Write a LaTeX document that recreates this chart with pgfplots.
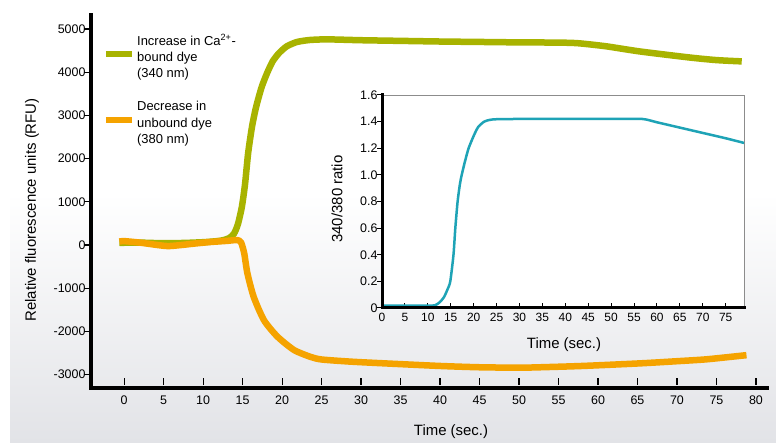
\documentclass[border=0pt]{standalone}
\usepackage{pgfplots}
\pgfplotsset{compat=1.18}
\usepackage{fontspec}
\setmainfont{Liberation Sans}
\definecolor{cgreen}{RGB}{168,179,0}
\definecolor{corange}{RGB}{245,163,0}
\definecolor{cteal}{RGB}{30,163,182}
\definecolor{bggrey}{RGB}{226,227,231}
\begin{document}
\begin{tikzpicture}
\fill[white] (0bp,0bp) rectangle (776bp,443bp);
\shade[top color=white, bottom color=bggrey] (10bp,0bp) rectangle (776bp,250bp);
\begin{axis}[
  at={(91bp,55bp)}, anchor=south west, scale only axis,
  width=676bp, height=373bp,
  xmin=-4.2, xmax=81.4, ymin=-3310, ymax=5324,
  axis x line*=bottom, axis y line*=left,
  axis line style={line width=4.5bp, black, -, line cap=rect},
  xtick={0,5,...,80}, ytick={-3000,-2000,...,5000},
  tick align=inside, major tick length=7bp,
  tick style={black, line width=1.2bp},
  x tick style={yshift=3bp},
  y tick style={xshift=-7bp},
  /pgf/number format/assume math mode=true,
  scaled y ticks=false,
  yticklabel style={/pgf/number format/1000 sep={}, font=\fontsize{12.5}{14}\selectfont, xshift=-2bp},
  xticklabel style={font=\fontsize{12.5}{14}\selectfont, yshift=-4bp},
  legend style={draw=none, fill=none, at={(0.017,0.954)}, anchor=north west,
    inner sep=0pt, row sep=18bp, font=\fontsize{13}{16.5}\selectfont,
    cells={align=left, inner xsep=1.5bp}},
  legend cell align=left,
  legend image code/.code={\draw[#1, line width=6.5bp] (0bp,3bp) -- (26bp,3bp);},
]
\addplot[cgreen, line width=6.5bp, smooth, tension=0.4] coordinates {
(-0.6,50) (0,52) (2,55) (4,45) (6,42) (8,50) (10,65) (11.5,85) (12.5,110)
(13.3,160) (13.9,260) (14.4,480) (14.9,880) (15.3,1400) (15.7,2130) (16.2,2750)
(16.7,3190) (17.4,3650) (18.1,3980) (18.8,4250) (19.6,4440) (20.6,4600) (21.9,4700)
(23.5,4745) (25.7,4760) (30,4740) (35,4725) (40,4710) (45,4700) (50,4690)
(55,4685) (57.5,4670) (61,4600) (65.3,4480) (71.6,4340) (75,4280) (78.2,4250)
};
\addlegendentry{Increase in Ca\textsuperscript{2+}-\\bound dye\\(340 nm)}
\addplot[corange, line width=6.5bp, smooth, tension=0.4] coordinates {
(-0.6,80) (0,90) (2,55) (4,5) (5.5,-25) (7,-5) (9,35) (11,70) (13,95) (14.3,115)
(14.8,60) (15.2,-190) (15.6,-650) (16.4,-1200) (17.7,-1740) (19.4,-2120)
(21.5,-2430) (23.6,-2590) (25,-2650) (28.7,-2700) (33,-2740) (40,-2800)
(45,-2830) (50,-2840) (52.7,-2830) (58,-2800) (65.3,-2740) (70,-2690)
(73.8,-2645) (78.8,-2550)
};
\addlegendentry{Decrease in\\unbound dye\\(380 nm)}
\end{axis}
\node[rotate=90, font=\fontsize{15}{17}\selectfont] at (32bp,233bp) {Relative fluorescence units (RFU)};
\node[font=\fontsize{15}{17}\selectfont] at (451bp,11bp) {Time (sec.)};
\begin{axis}[
  at={(382bp,135bp)}, anchor=south west, scale only axis,
  width=362bp, height=213bp,
  xmin=0, xmax=79, ymin=0, ymax=1.6,
  axis background/.style={fill=white},
  axis line style={black!45, line width=0.6bp},
  xtick={0,5,...,75}, ytick={0,0.2,...,1.6},
  yticklabels={0,0.2,0.4,0.6,0.8,1.0,1.2,1.4,1.6},
  xtick pos=bottom, ytick pos=left,
  tick align=inside, major tick length=5bp,
  tick style={black, line width=1bp},
  y tick style={xshift=-5bp},
  /pgf/number format/assume math mode=true,
  yticklabel style={font=\fontsize{12.5}{14}\selectfont, xshift=-1bp},
  xticklabel style={font=\fontsize{12}{14}\selectfont, yshift=-2bp},
  clip=false,
]
\addplot[cteal, line width=2.5bp, smooth, tension=0.4] coordinates {
(0,0.018) (5,0.018) (10,0.018) (11.5,0.02) (12.5,0.04) (13.5,0.08) (14.3,0.14)
(14.9,0.2) (15.6,0.4) (16,0.6) (16.5,0.8) (17,0.93) (17.4,1.0) (18.1,1.1)
(18.9,1.2) (20.1,1.3) (21,1.36) (22.3,1.4) (23.5,1.413) (25,1.418) (30,1.42)
(40,1.42) (50,1.42) (56.8,1.42) (60,1.395) (65,1.355) (70,1.315) (75,1.275) (79,1.24)
};
\draw[black, line width=3bp, line cap=rect] (rel axis cs:0,1) -- (rel axis cs:0,0) -- (rel axis cs:1,0);
\end{axis}
\node[rotate=90, font=\fontsize{15}{17}\selectfont] at (337bp,244bp) {340/380 ratio};
\node[font=\fontsize{15}{17}\selectfont] at (564bp,98bp) {Time (sec.)};
\end{tikzpicture}
\end{document}
